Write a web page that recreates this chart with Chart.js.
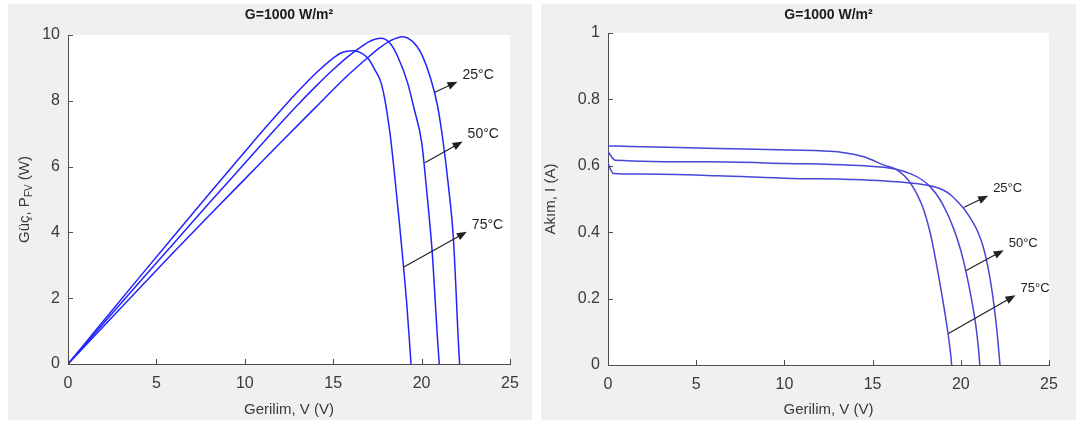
<!DOCTYPE html>
<html lang="tr">
<head>
<meta charset="UTF-8">
<title>G=1000 W/m2 - P-V ve I-V egrileri</title>
<script src="https://cdn.jsdelivr.net/npm/chart.js@4.4.0/dist/chart.umd.min.js"></script>
<style>
  body { margin: 0; background: #fff; width: 1080px; height: 423px; overflow: hidden; position: relative; }
  .panel { position: absolute; top: 4px; height: 416px; background: #f0f0f0; }
  #left { left: 8px; width: 524px; }
  #right { left: 541px; width: 535px; }
</style>
</head>
<body>
<div class="panel" id="left"><canvas id="pvChart"></canvas></div>
<div class="panel" id="right"><canvas id="ivChart"></canvas></div>
<script>
// P-V curves (V in volts, P in watts)
var pvV25 = [0, 2, 4, 6, 8, 10, 12, 14, 15.8, 16.93, 17.6, 18.25, 18.92, 19.5, 19.95, 20.52, 20.9, 21.18, 21.5, 21.8, 21.95, 22.07, 22.15];
var pvP25 = [0, 1.14, 2.28, 3.41, 4.52, 5.62, 6.72, 7.8, 8.76, 9.3, 9.6, 9.83, 9.95, 9.8, 9.47, 8.66, 7.85, 6.9, 5.5, 3.8, 2.2, 0.76, 0];
var pvV50 = [0, 2, 4, 6, 8, 10, 12, 13, 14, 15, 15.8, 16.74, 17.2, 17.7, 18.2, 18.63, 19.2, 19.58, 20.0, 20.3, 20.6, 20.75, 20.9, 21.0];
var pvP50 = [0, 1.23, 2.46, 3.68, 4.9, 6.1, 7.3, 7.88, 8.43, 8.95, 9.33, 9.7, 9.84, 9.9, 9.76, 9.37, 8.56, 7.75, 6.75, 5.2, 3.4, 2.1, 0.76, 0];
var pvV75 = [0, 2, 4, 6, 8, 10, 11, 12, 13, 14, 15, 15.5, 16.1, 16.6, 17.0, 17.35, 17.7, 17.9, 18.07, 18.25, 18.5, 18.75, 18.97, 19.15, 19.3, 19.4];
var pvP75 = [0, 1.31, 2.61, 3.9, 5.18, 6.45, 7.08, 7.69, 8.28, 8.83, 9.3, 9.47, 9.52, 9.45, 9.27, 8.95, 8.56, 8.1, 7.55, 6.85, 5.6, 4.25, 3.0, 1.9, 0.8, 0];

// I-V curves (V in volts, I in amperes)
var ivV25 = [0, 0.3, 1.8, 6.2, 10.4, 13.75, 16.98, 18.5, 19.0, 19.43, 19.8, 20.19, 20.57, 20.95, 21.25, 21.52, 21.75, 21.95, 22.1, 22.22];
var ivI25 = [0.607, 0.577, 0.575, 0.57, 0.562, 0.559, 0.549, 0.537, 0.527, 0.512, 0.493, 0.47, 0.44, 0.403, 0.36, 0.3, 0.23, 0.15, 0.075, 0];
var ivV50 = [0, 0.4, 5.8, 10.15, 13.75, 15.07, 16.4, 17.2, 17.8, 18.3, 18.8, 19.2, 19.6, 20.0, 20.3, 20.6, 20.85, 21.0, 21.08];
var ivI50 = [0.643, 0.617, 0.612, 0.607, 0.602, 0.598, 0.589, 0.575, 0.558, 0.535, 0.5, 0.46, 0.41, 0.345, 0.28, 0.2, 0.12, 0.05, 0];
var ivV75 = [0, 1.3, 5.6, 9.7, 12.0, 13.2, 14.5, 15.65, 16.4, 17.16, 17.9, 18.3, 18.6, 18.9, 19.15, 19.34, 19.45, 19.48];
var ivI75 = [0.66, 0.658, 0.653, 0.648, 0.645, 0.641, 0.627, 0.602, 0.587, 0.547, 0.467, 0.39, 0.31, 0.22, 0.14, 0.07, 0.02, 0];

// temperature labels and their arrows (data units)
var tempLabels = ['25°C', '50°C', '75°C'];
var pvArrowFromV = [20.71, 20.18, 18.97];
var pvArrowFromP = [8.25, 6.12, 2.94];
var pvArrowToV = [22.03, 22.32, 22.56];
var pvArrowToP = [8.58, 6.76, 4.02];
var ivArrowFromV = [20.19, 20.28, 19.3];
var ivArrowFromI = [0.475, 0.284, 0.095];
var ivArrowToV = [21.55, 22.43, 23.1];
var ivArrowToI = [0.51, 0.346, 0.21];

var xTicks = [0, 5, 10, 15, 20, 25];
var pvTicks = [0, 2, 4, 6, 8, 10];
var ivTicks = [0, 0.2, 0.4, 0.6, 0.8, 1];

var axisColor = '#4d4d4d';
var textColor = '#3a3a3a';
var fontName = '"Liberation Sans", Arial, sans-serif';

function pts(xs, ys) {
  return xs.map(function (v, i) { return { x: v, y: ys[i] }; });
}

function curve(xs, ys, color) {
  return {
    data: pts(xs, ys),
    showLine: true,
    borderColor: color,
    borderWidth: 1.5,
    pointRadius: 0,
    cubicInterpolationMode: 'monotone',
    fill: false
  };
}

var panelDecor = {
  id: 'panelDecor',
  beforeDraw: function (chart) {
    var a = chart.chartArea, ctx = chart.ctx;
    ctx.save();
    ctx.fillStyle = '#ffffff';
    ctx.fillRect(a.left, a.top, a.right - a.left, a.bottom - a.top);
    ctx.restore();
  },
  afterDraw: function (chart, args, opts) {
    var ctx = chart.ctx, a = chart.chartArea;
    var xs = chart.scales.x, ys = chart.scales.y;
    ctx.save();

    // inward tick marks like the original plot
    ctx.strokeStyle = axisColor;
    ctx.lineWidth = 1;
    ctx.beginPath();
    xs.ticks.forEach(function (t) {
      var px = Math.round(xs.getPixelForValue(t.value)) + 0.5;
      ctx.moveTo(px, a.bottom); ctx.lineTo(px, a.bottom - 5);
    });
    ys.ticks.forEach(function (t) {
      var py = Math.round(ys.getPixelForValue(t.value)) + 0.5;
      ctx.moveTo(a.left, py); ctx.lineTo(a.left + 5, py);
    });
    ctx.stroke();

    // title
    ctx.fillStyle = '#1a1a1a';
    ctx.font = 'bold 14px ' + fontName;
    ctx.textAlign = 'center';
    ctx.textBaseline = 'middle';
    ctx.fillText(opts.title, (a.left + a.right) / 2, 11);

    // y title, rotated, with optional subscript
    ctx.save();
    ctx.translate(opts.yTitleX, (a.top + a.bottom) / 2);
    ctx.rotate(-Math.PI / 2);
    ctx.fillStyle = textColor;
    ctx.textAlign = 'left';
    ctx.textBaseline = 'middle';
    var big = '15px ' + fontName, small = '10px ' + fontName;
    ctx.font = big; var w1 = ctx.measureText(opts.yTitle[0]).width;
    ctx.font = small; var w2 = ctx.measureText(opts.yTitle[1]).width;
    ctx.font = big; var w3 = ctx.measureText(opts.yTitle[2]).width;
    var sx = -(w1 + w2 + w3) / 2;
    ctx.font = big; ctx.fillText(opts.yTitle[0], sx, 0);
    ctx.font = small; ctx.fillText(opts.yTitle[1], sx + w1, 4);
    ctx.font = big; ctx.fillText(opts.yTitle[2], sx + w1 + w2, 0);
    ctx.restore();

    // arrows with temperature labels
    ctx.strokeStyle = '#222';
    ctx.fillStyle = '#222';
    ctx.lineWidth = 1.2;
    opts.labels.forEach(function (txt, i) {
      var x0 = xs.getPixelForValue(opts.fromX[i]), y0 = ys.getPixelForValue(opts.fromY[i]);
      var x1 = xs.getPixelForValue(opts.toX[i]), y1 = ys.getPixelForValue(opts.toY[i]);
      var ang = Math.atan2(y1 - y0, x1 - x0);
      ctx.beginPath();
      ctx.moveTo(x0, y0);
      ctx.lineTo(x1 - 6 * Math.cos(ang), y1 - 6 * Math.sin(ang));
      ctx.stroke();
      ctx.beginPath();
      ctx.moveTo(x1, y1);
      ctx.lineTo(x1 - 10 * Math.cos(ang) + 4 * Math.sin(ang), y1 - 10 * Math.sin(ang) - 4 * Math.cos(ang));
      ctx.lineTo(x1 - 10 * Math.cos(ang) - 4 * Math.sin(ang), y1 - 10 * Math.sin(ang) + 4 * Math.cos(ang));
      ctx.closePath();
      ctx.fill();
      ctx.font = opts.labelSize + 'px ' + fontName;
      ctx.textAlign = 'left';
      ctx.textBaseline = 'middle';
      ctx.fillText(txt, x1 + 5, y1 - 7);
    });
    ctx.restore();
  }
};

function axes(yMax, yTicks, yWidth, xHeight) {
  return {
    x: {
      type: 'linear', min: 0, max: 25,
      afterBuildTicks: function (s) { s.ticks = xTicks.map(function (v) { return { value: v }; }); },
      afterFit: function (s) { s.height = xHeight; },
      grid: { display: false, drawTicks: false },
      border: { display: true, color: axisColor, width: 1 },
      ticks: { color: textColor, padding: 10, font: { size: 16, family: fontName } },
      title: { display: true, text: 'Gerilim, V (V)', color: textColor,
               font: { size: 15, family: fontName }, padding: { top: 0, bottom: 1 } }
    },
    y: {
      type: 'linear', min: 0, max: yMax,
      afterBuildTicks: function (s) { s.ticks = yTicks.map(function (v) { return { value: v }; }); },
      afterFit: function (s) { s.width = yWidth; },
      grid: { display: false, drawTicks: false },
      border: { display: true, color: axisColor, width: 1 },
      ticks: {
        color: textColor, padding: 8, font: { size: 16, family: fontName },
        callback: function (v) { return String(Number(v.toFixed(2))); }
      }
    }
  };
}

new Chart(document.getElementById('pvChart'), {
  type: 'scatter',
  data: {
    datasets: [
      curve(pvV25, pvP25, '#2323ff'),
      curve(pvV50, pvP50, '#2323ff'),
      curve(pvV75, pvP75, '#2323ff')
    ]
  },
  options: {
    responsive: true,
    maintainAspectRatio: false,
    animation: false,
    layout: { padding: { left: 0, right: 22, top: 31, bottom: 0 } },
    scales: axes(10, pvTicks, 60, 56),
    plugins: {
      legend: { display: false },
      tooltip: { enabled: false },
      panelDecor: {
        title: 'G=1000 W/m²',
        yTitle: ['Güç, P', 'FV', ' (W)'],
        yTitleX: 17,
        labels: tempLabels,
        fromX: pvArrowFromV, fromY: pvArrowFromP,
        toX: pvArrowToV, toY: pvArrowToP,
        labelSize: 14
      }
    }
  },
  plugins: [panelDecor]
});

new Chart(document.getElementById('ivChart'), {
  type: 'scatter',
  data: {
    datasets: [
      curve(ivV25, ivI25, '#4646d8'),
      curve(ivV50, ivI50, '#4646d8'),
      curve(ivV75, ivI75, '#4646d8')
    ]
  },
  options: {
    responsive: true,
    maintainAspectRatio: false,
    animation: false,
    layout: { padding: { left: 0, right: 27, top: 29, bottom: 0 } },
    scales: axes(1, ivTicks, 67, 55),
    plugins: {
      legend: { display: false },
      tooltip: { enabled: false },
      panelDecor: {
        title: 'G=1000 W/m²',
        yTitle: ['Akım, I (A)', '', ''],
        yTitleX: 10,
        labels: tempLabels,
        fromX: ivArrowFromV, fromY: ivArrowFromI,
        toX: ivArrowToV, toY: ivArrowToI,
        labelSize: 13
      }
    }
  },
  plugins: [panelDecor]
});
</script>
</body>
</html>
